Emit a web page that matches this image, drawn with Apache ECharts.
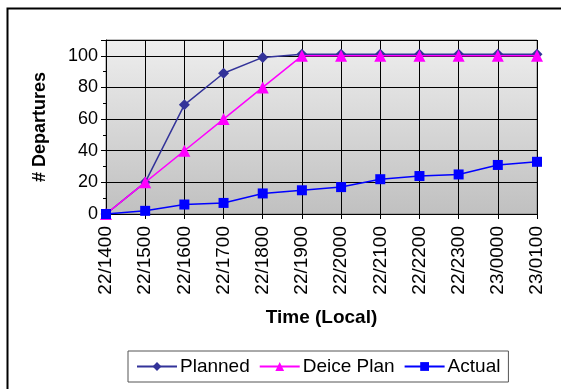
<!DOCTYPE html>
<html>
<head>
<meta charset="utf-8">
<script src="https://cdn.jsdelivr.net/npm/echarts@6/dist/echarts.min.js"></script>
<style>
  html, body { margin: 0; padding: 0; background: #fff; }
  #chart { width: 561px; height: 389px; }
</style>
</head>
<body>
<div id="chart"></div>
<script>
// Hourly departure times (day/hhmm local)
const times = ['22/1400', '22/1500', '22/1600', '22/1700', '22/1800', '22/1900',
               '22/2000', '22/2100', '22/2200', '22/2300', '23/0000', '23/0100'];

// Cumulative departures per series
const planned   = [0, 20, 69, 89, 99, 101, 101, 101, 101, 101, 101, 101];
const deicePlan = [0, 20, 40, 60, 80, 100, 100, 100, 100, 100, 100, 100];
const actual    = [0, 2, 6, 7, 13, 15, 17, 22, 24, 25, 31, 33];

const FONT = 'Liberation Sans, Arial, sans-serif';

const chart = echarts.init(document.getElementById('chart'), null, { renderer: 'canvas' });

chart.setOption({
  animation: false,
  backgroundColor: '#ffffff',
  graphic: [{
    type: 'rect',
    shape: { x: 7.5, y: 8.5, width: 600, height: 420 },
    style: { fill: 'none', stroke: '#000', lineWidth: 2 },
    silent: true,
    z: -1
  }],
  grid: {
    left: 106, right: 24, top: 40, bottom: 175,
    show: true,
    borderColor: '#808080',
    borderWidth: 1,
    backgroundColor: new echarts.graphic.LinearGradient(0, 0, 0, 1, [
      { offset: 0, color: '#eeeeee' },
      { offset: 1, color: '#c0c0c0' }
    ])
  },
  legend: {
    data: ['Planned', 'Deice Plan', 'Actual'],
    left: 128, top: 351,
    width: 400,
    padding: [6, 8, 6, 8],
    itemWidth: 40, itemHeight: 11, itemGap: 9,
    borderColor: '#555', borderWidth: 1,
    textStyle: { fontFamily: FONT, fontSize: 19, color: '#000', padding: [0, 0, 0, -2] }
  },
  xAxis: {
    type: 'category',
    data: times,
    boundaryGap: false,
    name: 'Time (Local)',
    nameLocation: 'middle',
    nameGap: 94,
    nameTextStyle: { fontFamily: FONT, fontSize: 19, fontWeight: 'bold', color: '#000' },
    axisLine: { lineStyle: { color: '#000', width: 1 } },
    axisTick: { show: true, length: 5, lineStyle: { color: '#000' } },
    axisLabel: { rotate: 90, margin: 12, fontFamily: FONT, fontSize: 19, color: '#000', interval: 0 },
    splitLine: { show: true, lineStyle: { color: '#000', width: 1 } }
  },
  yAxis: {
    type: 'value',
    min: 0, max: 110, interval: 20,
    name: '# Departures',
    nameLocation: 'middle',
    nameGap: 57,
    nameTextStyle: { fontFamily: FONT, fontSize: 18, fontWeight: 'bold', color: '#000' },
    axisLine: { show: true, lineStyle: { color: '#000', width: 1 } },
    axisTick: { show: true, length: 5, lineStyle: { color: '#000' } },
    minorTick: { show: true, splitNumber: 2, length: 3, lineStyle: { color: '#000' } },
    axisLabel: {
      margin: 8, fontFamily: FONT, fontSize: 18, color: '#000',
      formatter: v => (v > 100 ? '' : String(v))
    },
    splitLine: { show: true, lineStyle: { color: '#000', width: 1 } }
  },
  series: [
    {
      name: 'Planned', type: 'line', data: planned,
      symbol: 'diamond', symbolSize: 11,
      itemStyle: { color: '#333399' },
      lineStyle: { color: '#333399', width: 1.5 },
      z: 2
    },
    {
      name: 'Deice Plan', type: 'line', data: deicePlan,
      symbol: 'triangle', symbolSize: 12,
      itemStyle: { color: '#ff00ff' },
      lineStyle: { color: '#ff00ff', width: 1.5 },
      z: 3
    },
    {
      name: 'Actual', type: 'line', data: actual,
      symbol: 'rect', symbolSize: 10,
      itemStyle: { color: '#0000ff' },
      lineStyle: { color: '#0000ff', width: 1.5 },
      z: 4
    }
  ]
});
</script>
</body>
</html>
